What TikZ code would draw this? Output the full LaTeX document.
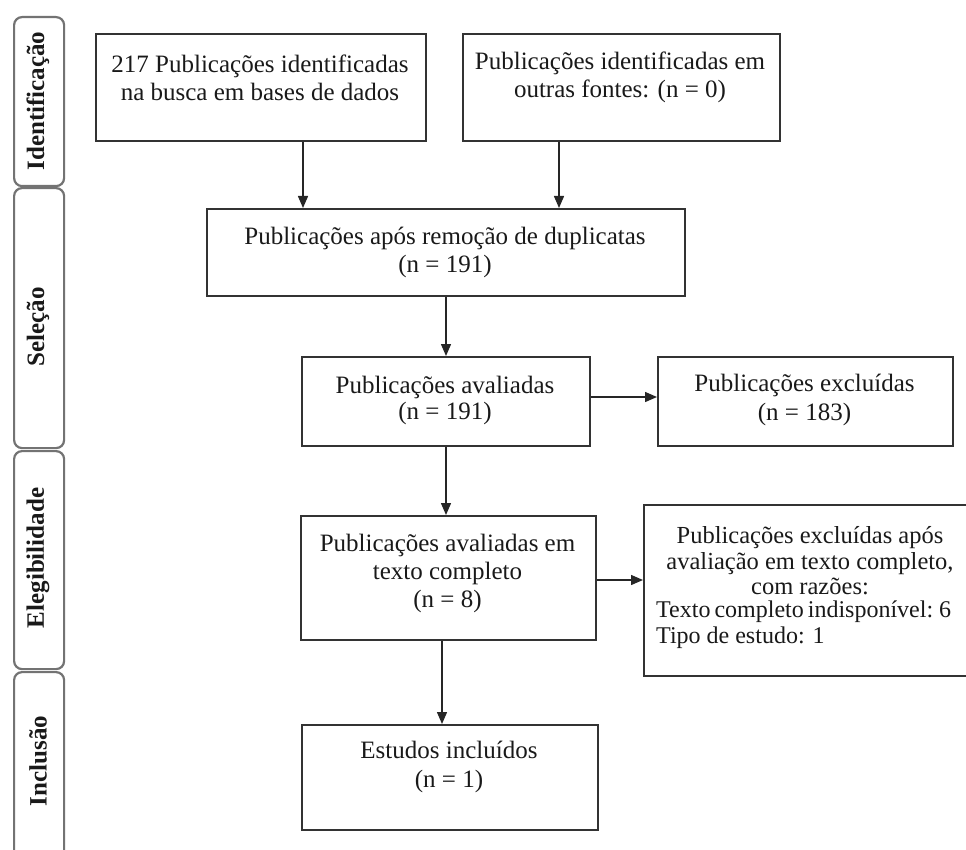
\documentclass[tikz,border=0pt]{standalone}
\usepackage{fontspec}
\setmainfont{Liberation Serif}
\usetikzlibrary{arrows.meta}
\begin{document}
\begin{tikzpicture}[x=1pt,y=-1pt,
  box/.style={draw=black!80, line width=1.6pt, rectangle, inner sep=0pt, anchor=north west},
  txt/.style={align=center, inner sep=0pt, text=black!90, font=\fontsize{25}{28}\selectfont},
  tabbox/.style={draw=black!55, line width=2.2pt, rounded corners=8pt, rectangle, inner sep=0pt, anchor=north west, minimum width=50pt},
  tabtxt/.style={rotate=90, inner sep=0pt, text=black!90, font=\fontsize{25}{27}\selectfont\bfseries},
  arr/.style={-{Triangle[length=12pt,width=10pt]}, line width=1.4pt, draw=black!85}]
\useasboundingbox (0,0) rectangle (966,850);
% side tabs
\node[tabbox, minimum height=169pt] (t1) at (13,16) {};
\node[tabbox, minimum height=260pt] (t2) at (13,187) {};
\node[tabbox, minimum height=218pt] (t3) at (13,450) {};
\node[tabbox, minimum height=210pt] (t4) at (13,671) {};
\node[tabtxt] (t1t) at (38,101) {Identificação};
\node[tabtxt] (t2t) at (38,327) {Seleção};
\node[tabtxt] (t3t) at (38,558) {Elegibilidade};
\node[tabtxt] (t4t) at (38,761) {Inclusão};
% boxes
\node[box, minimum width=330pt, minimum height=107pt] (b1) at (95,33) {};
\node[box, minimum width=317pt, minimum height=107pt] (b2) at (462,33) {};
\node[box, minimum width=478pt, minimum height=87pt] (b3) at (206,208) {};
\node[box, minimum width=288pt, minimum height=89pt] (b4) at (301,356) {};
\node[box, minimum width=295pt, minimum height=89pt] (b5) at (657,356) {};
\node[box, minimum width=295pt, minimum height=124pt] (b6) at (300,515) {};
\node[box, minimum width=340pt, minimum height=171pt] (b7) at (643,504) {};
\node[box, minimum width=296pt, minimum height=105pt] (b8) at (301,724) {};
% texts
\node[txt] (b1t) at (260,77.5) {217 Publicações identificadas\\na busca em bases de dados};
\node[txt] (b2t) at (620,77.5) {Publicações identificadas em\\outras fontes: (n = 0)};
\node[txt] (b3t) at (445,252) {Publicações após remoção de duplicatas\\(n = 191)};
\node[txt, font=\fontsize{25}{26}\selectfont] (b4t) at (445,400) {Publicações avaliadas\\(n = 191)};
\node[txt, font=\fontsize{25}{29}\selectfont] (b5t) at (804.5,400) {Publicações excluídas\\(n = 183)};
\node[txt] (b6t) at (447.5,573) {Publicações avaliadas em\\texto completo\\(n = 8)};
\node[txt, font=\fontsize{24.5}{25.5}\selectfont] (b7a) at (810,561) {Publicações excluídas após\\avaliação em texto completo,\\com razões:};
\node[txt, align=left, anchor=west, font=\fontsize{24}{25.5}\selectfont] (b7b) at (656,624.5) {\spaceskip=4pt\relax Texto completo indisponível: 6\\Tipo de estudo: 1};
\node[txt, font=\fontsize{25}{29}\selectfont] (b8t) at (449,767) {Estudos incluídos\\(n = 1)};
% connector anchors
\coordinate (c1) at (303,0);
\coordinate (c2) at (559,0);
\coordinate (c3) at (446,0);
\coordinate (c4) at (442,0);
\coordinate (r1) at (0,397);
\coordinate (r2) at (0,580);
\draw[arr] (b1.south -| c1) -- (b3.north -| c1);
\draw[arr] (b2.south -| c2) -- (b3.north -| c2);
\draw[arr] (b3.south -| c3) -- (b4.north -| c3);
\draw[arr] (b4.east |- r1) -- (b5.west |- r1);
\draw[arr] (b4.south -| c3) -- (b6.north -| c3);
\draw[arr] (b6.east |- r2) -- (b7.west |- r2);
\draw[arr] (b6.south -| c4) -- (b8.north -| c4);
\end{tikzpicture}
\end{document}
